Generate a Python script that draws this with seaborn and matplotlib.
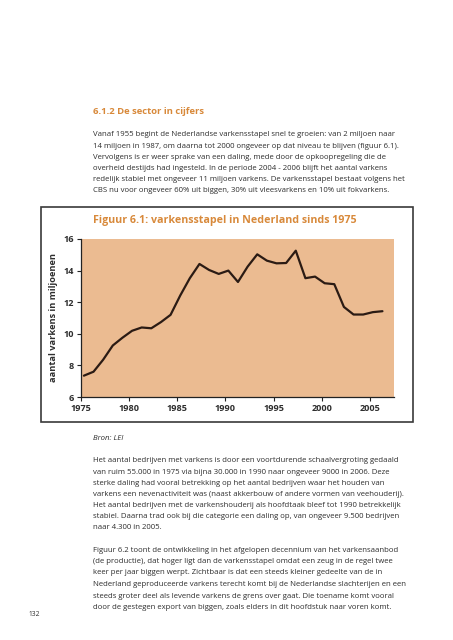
import matplotlib
matplotlib.use("Agg")
import matplotlib.pyplot as plt
from matplotlib.patches import Rectangle
import pandas as pd
import seaborn as sns

# Varkensstapel in Nederland (miljoen dieren)
years = list(range(1975, 2007))
pigs = [7.35, 7.6, 8.36, 9.26, 9.75, 10.19, 10.4, 10.35, 10.74, 11.2,
        12.42, 13.52, 14.42, 14.04, 13.79, 14.0, 13.28, 14.25, 15.03, 14.63,
        14.46, 14.48, 15.26, 13.52, 13.62, 13.2, 13.14, 11.7, 11.22, 11.22,
        11.37, 11.43]
x_ticks = [1975, 1980, 1985, 1990, 1995, 2000, 2005]
y_ticks = [6, 8, 10, 12, 14, 16]

heading = "6.1.2 De sector in cijfers"
para_1 = [
    "Vanaf 1955 begint de Nederlandse varkensstapel snel te groeien: van 2 miljoen naar",
    "14 miljoen in 1987, om daarna tot 2000 ongeveer op dat niveau te blijven (figuur 6.1).",
    "Vervolgens is er weer sprake van een daling, mede door de opkoopregeling die de",
    "overheid destijds had ingesteld. In de periode 2004 - 2006 blijft het aantal varkens",
    "redelijk stabiel met ongeveer 11 miljoen varkens. De varkensstapel bestaat volgens het",
    "CBS nu voor ongeveer 60% uit biggen, 30% uit vleesvarkens en 10% uit fokvarkens.",
]
chart_title = "Figuur 6.1: varkensstapel in Nederland sinds 1975"
y_label = "aantal varkens in miljoenen"
source = "Bron: LEI"
para_2 = [
    "Het aantal bedrijven met varkens is door een voortdurende schaalvergroting gedaald",
    "van ruim 55.000 in 1975 via bijna 30.000 in 1990 naar ongeveer 9000 in 2006. Deze",
    "sterke daling had vooral betrekking op het aantal bedrijven waar het houden van",
    "varkens een nevenactiviteit was (naast akkerbouw of andere vormen van veehouderij).",
    "Het aantal bedrijven met de varkenshouderij als hoofdtaak bleef tot 1990 betrekkelijk",
    "stabiel. Daarna trad ook bij die categorie een daling op, van ongeveer 9.500 bedrijven",
    "naar 4.300 in 2005.",
]
para_3 = [
    "Figuur 6.2 toont de ontwikkeling in het afgelopen decennium van het varkensaanbod",
    "(de productie), dat hoger ligt dan de varkensstapel omdat een zeug in de regel twee",
    "keer per jaar biggen werpt. Zichtbaar is dat een steeds kleiner gedeelte van de in",
    "Nederland geproduceerde varkens terecht komt bij de Nederlandse slachterijen en een",
    "steeds groter deel als levende varkens de grens over gaat. Die toename komt vooral",
    "door de gestegen export van biggen, zoals elders in dit hoofdstuk naar voren komt.",
]
page_number = "132"

df = pd.DataFrame({"jaar": years, "varkens": pigs})
# punten staan ongeveer midden in het jaar
df["x"] = df["jaar"] + 0.3

sns.set_theme(style="white")
plt.rcParams["font.family"] = ["Open Sans", "DejaVu Sans"]

orange = "#d8893a"
text_col = "#2e2e2e"
W, H = 453, 640

fig = plt.figure(figsize=(4.53, 6.4), dpi=100)
fig.patch.set_facecolor("white")


def fx(px):
    return px / W


def fy(py):
    return 1 - py / H


# kader rond de figuur
fig.patches.append(Rectangle((fx(41), fy(422)), fx(413) - fx(41), fy(207) - fy(422),
                             transform=fig.transFigure, fill=False,
                             edgecolor="#3a3a3a", linewidth=1.2))

ax = fig.add_axes([fx(81), fy(397), fx(394) - fx(81), fy(239) - fy(397)])
ax.set_facecolor("#ebbb91")
sns.lineplot(data=df, x="x", y="varkens", ax=ax, color="#2b1b14", linewidth=1.6)
ax.set_xlim(1975, 2007.5)
ax.set_ylim(6, 16)
ax.set_xticks(x_ticks)
ax.set_yticks(y_ticks)
ax.set_xticklabels([str(t) for t in x_ticks], fontsize=6.6, fontweight="bold", color=text_col)
ax.set_yticklabels([str(t) for t in y_ticks], fontsize=6.6, fontweight="bold", color=text_col)
ax.tick_params(axis="both", which="both", length=3, width=0.8, color="#222222",
               direction="out", pad=2, left=True, bottom=True)
ax.set_xlabel("")
ax.set_ylabel(y_label, fontsize=6.7, fontweight="bold", color=text_col, labelpad=4)
for side in ["top", "right"]:
    ax.spines[side].set_visible(False)
for side in ["left", "bottom"]:
    ax.spines[side].set_color("#222222")
    ax.spines[side].set_linewidth(0.9)
ax.grid(False)

body_size = 5.6
fig.text(fx(93), fy(112), heading, fontsize=6.8, fontweight="bold", color=orange, va="center")
for i, line in enumerate(para_1):
    fig.text(fx(93), fy(135 + i * 11.1), line, fontsize=body_size, color=text_col, va="center")

fig.text(fx(93), fy(220), chart_title, fontsize=7.7, fontweight="bold", color=orange, va="center")

fig.text(fx(93), fy(438), source, fontsize=body_size, style="italic", color=text_col, va="center")
for i, line in enumerate(para_2):
    fig.text(fx(93), fy(461 + i * 11.1), line, fontsize=body_size, color=text_col, va="center")
for i, line in enumerate(para_3):
    fig.text(fx(93), fy(550 + i * 11.5), line, fontsize=body_size, color=text_col, va="center")

fig.text(fx(28), fy(614), page_number, fontsize=4.8, color=text_col, va="center")

fig.savefig("out.png", dpi=100, facecolor="white")
